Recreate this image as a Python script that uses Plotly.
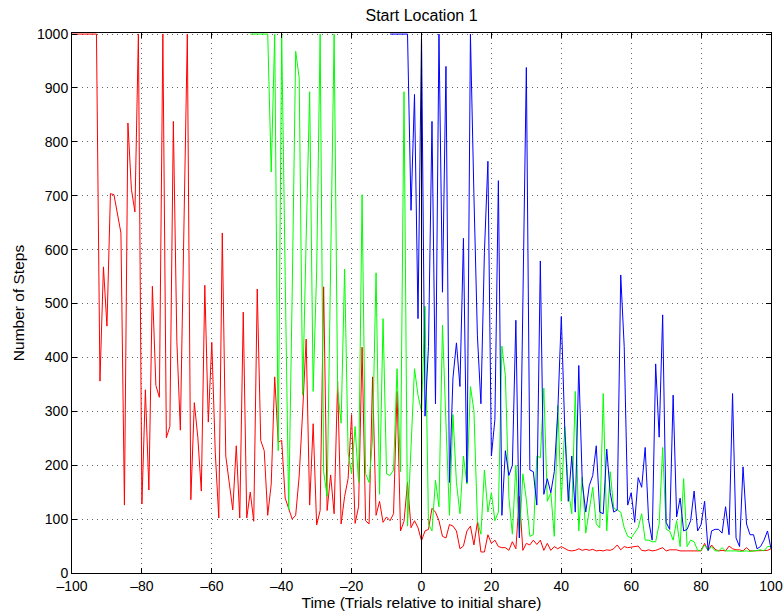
import plotly.graph_objects as go

# ---- data (capped at 1000 as plotted) ----
red_start = -100
red_steps = [1000, 1000, 1000, 1000, 1000, 1000, 1000, 1000,
             356, 568, 458, 704, 702, 668, 631, 126, 835, 712, 670, 1000, 128, 340, 154, 532, 348, 326,
             1000, 251, 272, 838, 430, 265, 620, 1000,
             136, 316, 252, 152, 534, 280, 428, 223, 102, 631, 217, 168, 117, 236, 102, 484, 102, 150,
             96, 527, 246, 227, 107, 165, 364, 243, 246,
             139, 120, 100, 107, 180, 300, 434, 126, 277, 89, 116, 531, 116, 182, 110, 356, 91, 142, 175, 294,
             92, 123, 419, 97, 91, 364, 107, 133, 94, 104, 97, 110, 337, 78, 96, 168, 84, 97, 84, 60,
             78, 81, 120, 113, 97, 68, 65, 90, 87, 78,
             45, 50, 78, 87, 52, 94, 39, 39, 71, 55,
             61, 49, 47, 47, 42, 58, 45, 142, 42, 55,
             52, 61, 53, 61, 42, 55, 42, 49, 45, 49,
             45, 42, 41, 42, 45, 42, 44, 42, 44, 41,
             42, 41, 43, 42, 45, 52, 43, 49, 47, 48,
             50, 50, 42, 41, 43, 41, 42, 45, 47, 41,
             43, 43, 43, 41, 41, 41, 41, 41, 41, 41,
             55, 42, 52, 44, 41, 42, 41, 50, 45, 43,
             43, 41, 47, 41, 41, 41, 41, 42, 42, 45]

green_start = -49
green_steps = [1000, 1000, 1000, 1000, 1000, 1000,
               744, 1000, 227, 1000, 550, 117, 520, 968, 919, 330, 620, 893, 337, 560, 1000,
               188, 142, 600, 1000, 340, 278, 564, 223, 184,
               272, 168, 702, 184, 168, 250, 557, 146, 472, 184, 181, 191, 379, 188, 893, 87, 233, 379, 330, 300,
               495, 91, 78, 172, 123, 460, 278, 107, 294, 168,
               110, 217, 165, 346, 301, 97, 72, 191, 113, 149,
               97, 113, 421, 366, 140, 72, 200, 65, 184, 136,
               68, 71, 217, 214, 343, 133, 149, 68, 311, 133,
               272, 155, 110, 337, 78, 178, 74, 117, 159, 91,
               84, 333, 78, 188, 120, 117, 113, 84, 68, 65,
               74, 84, 110, 61, 61, 58, 58, 91, 233, 81,
               78, 61, 97, 49, 175, 49, 61, 58, 42, 42,
               52, 42, 49, 41, 41, 47, 41, 41, 42, 41,
               40, 41, 41, 40, 41, 41, 43, 41, 49, 49]

blue_start = -9
blue_steps = [1000, 1000, 1000, 1000, 1000, 1000, 673, 888, 472, 1000,
              291, 420, 838, 314, 1000, 521, 940, 168, 362, 427,
              346, 621, 168, 1000, 700, 440, 314, 595, 764, 217,
              285, 728, 107, 227, 181, 200, 469, 65, 500, 938,
              191, 188, 126, 579, 146, 175, 149, 188, 300, 476,
              265, 133, 217, 113, 385, 168, 113, 162, 181, 236,
              113, 110, 230, 149, 113, 117, 553, 420, 126, 149,
              94, 177, 159, 233, 97, 61, 388, 252, 479, 94,
              81, 330, 104, 139, 78, 81, 97, 152, 78, 90,
              133, 42, 78, 81, 81, 74, 123, 71, 333, 65,
              49, 197, 91, 71, 71, 45, 49, 61, 78, 45]

share_x = [0, 0]
share_y = [0, 1000]

x_ticks = [-100, -80, -60, -40, -20, 0, 20, 40, 60, 80, 100]
x_tick_text = ["\u2013100", "\u201380", "\u201360", "\u201340", "\u201320", "0", "20", "40", "60", "80", "100"]
y_ticks = [0, 100, 200, 300, 400, 500, 600, 700, 800, 900, 1000]

red_t = list(range(red_start, red_start + len(red_steps)))
green_t = list(range(green_start, green_start + len(green_steps)))
blue_t = list(range(blue_start, blue_start + len(blue_steps)))

FONT = "Liberation Sans, Arial, Helvetica, sans-serif"
TICK_FS = 14
LABEL_FS = 15.5
TITLE_FS = 16

fig = go.Figure()
fig.add_trace(go.Scatter(x=red_t, y=red_steps, mode="lines",
                         line=dict(color="#ff0000", width=1), showlegend=False))
fig.add_trace(go.Scatter(x=green_t, y=green_steps, mode="lines",
                         line=dict(color="#00ff00", width=1), showlegend=False))
fig.add_trace(go.Scatter(x=blue_t, y=blue_steps, mode="lines",
                         line=dict(color="#0000ff", width=1), showlegend=False))
fig.add_trace(go.Scatter(x=share_x, y=share_y, mode="lines",
                         line=dict(color="#000000", width=1), showlegend=False))

axis_common = dict(
    showline=True, linecolor="black", linewidth=1, mirror="ticks",
    ticks="inside", ticklen=5, tickcolor="black", tickwidth=1,
    showgrid=True, gridcolor="rgba(0,0,0,0.6)", gridwidth=1, griddash="1px,4px",
    zeroline=False, automargin=False,
    tickfont=dict(family=FONT, size=TICK_FS, color="black"),
)

fig.update_xaxes(range=[-100, 100], tickvals=x_ticks, ticktext=x_tick_text,
                 title=dict(text="Time (Trials relative to initial share)",
                            font=dict(family=FONT, size=LABEL_FS, color="black"), standoff=3),
                 **axis_common)
fig.update_yaxes(range=[0, 1002], tickvals=y_ticks,
                 title=dict(text="Number of Steps",
                            font=dict(family=FONT, size=LABEL_FS, color="black"), standoff=8),
                 **axis_common)

fig.update_layout(
    width=783, height=616, autosize=False,
    margin=dict(l=72, r=12, t=33, b=43),
    paper_bgcolor="white", plot_bgcolor="white",
    title=dict(text="Start Location 1", x=0.5, xanchor="center", xref="paper",
               y=1 - 15 / 616, yanchor="middle", automargin=False,
               font=dict(family=FONT, size=TITLE_FS, color="black")),
    font=dict(family=FONT, size=LABEL_FS, color="black"),
)

fig.write_html("out.html", config={"displayModeBar": False},
               post_script="document.body.style.margin='0px';document.body.style.overflow='hidden';")
